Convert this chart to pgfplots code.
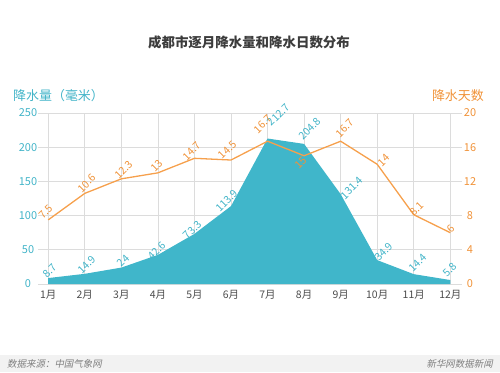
\documentclass[border=0pt]{standalone}
\usepackage{pgfplots}
\pgfplotsset{compat=1.18}
\usepackage{pgfplotstable}
\usepackage{fontspec}
\setmainfont{Noto Sans CJK SC}
\newfontfamily\cjkit{Noto Sans CJK SC}[FakeSlant=0.2]
\definecolor{areacol}{RGB}{64,182,202}
\definecolor{tealtxt}{RGB}{66,180,200}
\definecolor{orgline}{RGB}{246,160,76}
\definecolor{orgtxt}{RGB}{240,146,56}
\definecolor{titlecol}{RGB}{60,60,60}
\definecolor{gridcol}{RGB}{220,220,220}
% precipitation with label offsets (bp)
\pgfplotstableread{
m p pl px py
1 8.7 8.7 2 7
2 14.9 14.9 2 9
3 24 24 2 7
4 42.6 42.6 -1 4
5 73.3 73.3 -2 4
6 113.9 113.9 -4 5
7 212.7 212.7 11 24
8 204.8 204.8 6 15
9 131.4 131.4 11 6
10 34.9 34.9 7 8.5
11 14.4 14.4 4.5 11
12 5.8 5.8 0 10
}\pdata
% rain days with label offsets (bp)
\pgfplotstableread{
m d dl dx dy
1 7.5 7.5 -2 8
2 10.6 10.6 2 10
3 12.3 12.3 2.5 9
4 13 13 -1 7
5 14.7 14.7 -2.5 7
6 14.5 14.5 -3.5 10
7 16.7 16.7 -5 17
8 15 15 -3 -7
9 16.7 16.7 4 13
10 14 14 7 4
11 8.1 8.1 3.5 6
12 6 6 1 4
}\ddata
\begin{document}
\begin{tikzpicture}[x=1bp,y=1bp]
\useasboundingbox (0,0) rectangle (500,372);
\fill[black!5] (0,0) rectangle (500,17);
\node[anchor=west,text=black!50,font=\fontsize{9.5}{10}\selectfont\cjkit,inner sep=0] at (7,8.5) {数据来源：中国气象网};
\node[anchor=east,text=black!50,font=\fontsize{9.5}{10}\selectfont\cjkit,inner sep=0] at (493,8.5) {新华网数据新闻};
\node[text=titlecol,font=\fontsize{13.5}{14}\selectfont\bfseries,inner sep=0] at (249,330) {成都市逐月降水量和降水日数分布};
\node[anchor=west,text=tealtxt,font=\fontsize{13}{14}\selectfont,inner sep=0] at (13,276) {降水量（毫米）};
\node[anchor=east,text=orgtxt,font=\fontsize{13}{14}\selectfont,inner sep=0] at (484,276) {降水天数};
\begin{axis}[
  at={(38bp,88bp)}, anchor=south west,
  scale only axis, width=424bp, height=171bp,
  xmin=0.72, xmax=12.32, ymin=0, ymax=250,
  xtick={1,...,12},
  xticklabels={1月,2月,3月,4月,5月,6月,7月,8月,9月,10月,11月,12月},
  ytick={0,50,...,250},
  grid=major, major grid style={gridcol, line width=0.7pt},
  axis line style={draw=none}, tick style={draw=none},
  /pgf/number format/assume math mode=true,
  yticklabel style={text=tealtxt, font=\fontsize{11}{11}\selectfont, anchor=center, xshift=-10bp},
  xticklabel style={text=black!70, font=\fontsize{10.5}{11}\selectfont, yshift=-3bp},
  clip=false,
]
\addplot[fill=areacol, draw=none] table[x=m,y=p]{\pdata} \closedcycle;
\addplot[draw=none, mark=none, nodes near coords, point meta=explicit symbolic,
  visualization depends on={\thisrow{px} \as \lx},
  visualization depends on={\thisrow{py} \as \ly},
  nodes near coords style={xshift=\lx bp, yshift=\ly bp, rotate=45, anchor=center, inner sep=0pt, text=tealtxt, font=\fontsize{10.5}{10}\selectfont}]
  table[x=m,y=p,meta=pl]{\pdata};
\end{axis}
\begin{axis}[
  at={(38bp,88bp)}, anchor=south west,
  scale only axis, width=424bp, height=171bp,
  xmin=0.72, xmax=12.32, ymin=0, ymax=20,
  ytick={0,4,...,20},
  axis y line*=right, hide x axis,
  axis line style={draw=none}, tick style={draw=none},
  /pgf/number format/assume math mode=true,
  yticklabel style={text=orgtxt, font=\fontsize{11}{11}\selectfont, anchor=center, xshift=8bp},
  clip=false,
]
\addplot[orgline, line width=1.3pt, mark=none] table[x=m,y=d]{\ddata};
\addplot[draw=none, mark=none, nodes near coords, point meta=explicit symbolic,
  visualization depends on={\thisrow{dx} \as \lx},
  visualization depends on={\thisrow{dy} \as \ly},
  nodes near coords style={xshift=\lx bp, yshift=\ly bp, rotate=45, anchor=center, inner sep=0pt, text=orgtxt, font=\fontsize{10.5}{10}\selectfont}]
  table[x=m,y=d,meta=dl]{\ddata};
\end{axis}
\end{tikzpicture}
\end{document}
